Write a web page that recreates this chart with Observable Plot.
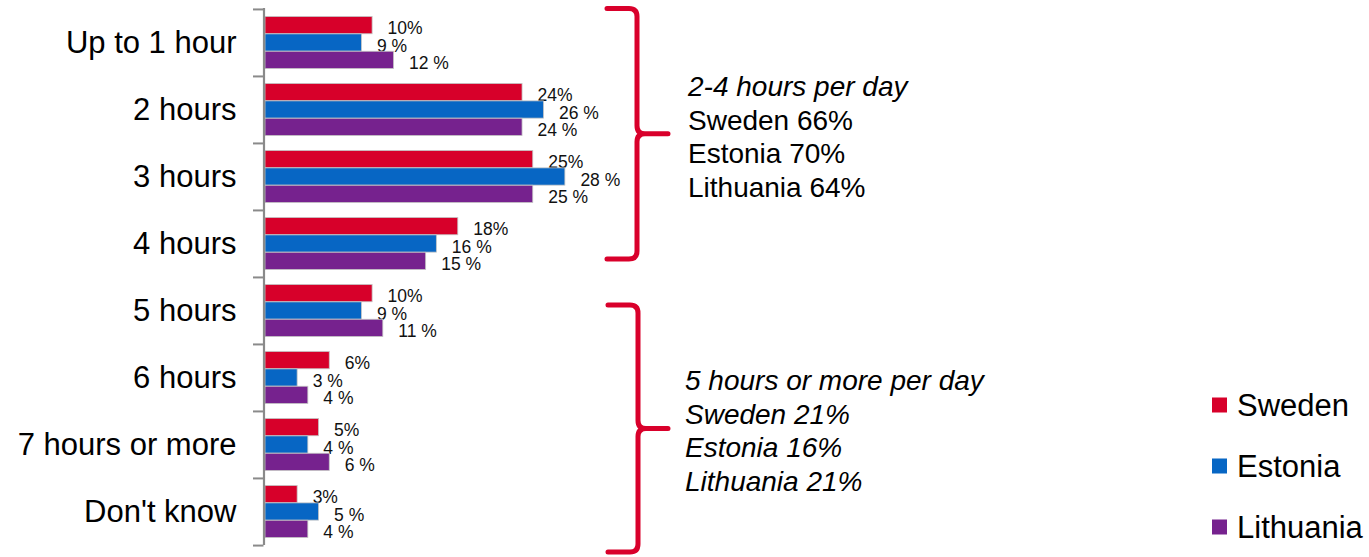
<!DOCTYPE html>
<html>
<head>
<meta charset="utf-8">
<script src="https://cdn.jsdelivr.net/npm/d3@7"></script>
<script src="https://cdn.jsdelivr.net/npm/@observablehq/plot@0.6"></script>
<style>
  html, body { margin: 0; padding: 0; background: #fff; }
  #chart { width: 1369px; height: 557px; }
</style>
</head>
<body>
<div id="chart"></div>
<script>
// ---- data ----
const categories = ["Up to 1 hour", "2 hours", "3 hours", "4 hours", "5 hours", "6 hours", "7 hours or more", "Don't know"];
const seriesNames = ["Sweden", "Estonia", "Lithuania"];
const sweden    = [10, 24, 25, 18, 10, 6, 5, 3];
const estonia   = [9, 26, 28, 16, 9, 3, 4, 5];
const lithuania = [12, 24, 25, 15, 11, 4, 6, 4];
const seriesColors = ["#d7002a", "#0766c4", "#76228e"];
const annotationTop = ["2-4 hours per day", "Sweden 66%", "Estonia 70%", "Lithuania 64%"];
const annotationBottom = ["5 hours or more per day", "Sweden 21%", "Estonia 16%", "Lithuania 21%"];

// ---- layout ----
const W = 1369, H = 557, mTop = 8, mBottom = 12, mLeft = 265;
const pxPerPct = 10.71;
const bw = (H - mTop - mBottom) / categories.length;
const pad = 7.5, slot = (bw - 2 * pad) / 3;
const font = "'Liberation Sans', Arial, Helvetica, sans-serif";
const axisGray = "#8a8a8a";

const allSeries = [sweden, estonia, lithuania];
const rows = [];
allSeries.forEach((vals, s) => vals.forEach((v, i) => rows.push({
  category: categories[i], series: seriesNames[s], si: s, value: v,
  label: s === 0 ? `${v}%` : `${v} %`
})));

const marks = [];
seriesNames.forEach((name, s) => {
  const data = rows.filter(r => r.si === s);
  marks.push(Plot.barX(data, {
    x: "value", y: "category", fill: seriesColors[s],
    stroke: "#c4c4c4", strokeWidth: 0.8,
    insetTop: pad + s * slot, insetBottom: bw - pad - (s + 1) * slot
  }));
  marks.push(Plot.text(data, {
    x: "value", y: "category", text: "label", textAnchor: "start",
    dx: 15, dy: pad + (s + 0.5) * slot - bw / 2 + 3,
    fontSize: 17.5, fill: "#111"
  }));
});
// axis line
marks.push(Plot.ruleX([0], {stroke: axisGray, strokeWidth: 2.2, dx: -1.5}));
// boundary ticks
marks.push(Plot.ruleY(categories, {y: d => d, dy: -bw / 2, x1: 0, x2: 0, insetLeft: -12, insetRight: 1.5, stroke: axisGray, strokeWidth: 2}));
marks.push(Plot.ruleY([categories[categories.length - 1]], {y: d => d, dy: bw / 2, x1: 0, x2: 0, insetLeft: -12, insetRight: 1.5, stroke: axisGray, strokeWidth: 2}));

const chart = Plot.plot({
  width: W, height: H,
  marginTop: mTop, marginBottom: mBottom, marginLeft: mLeft, marginRight: 0,
  x: {domain: [0, (W - mLeft) / pxPerPct], axis: null},
  y: {domain: categories, padding: 0, tickSize: 0, tickPadding: 29, label: null},
  style: {fontFamily: font, fontSize: "31px", color: "#000", background: "white", overflow: "visible"},
  marks
});
document.getElementById("chart").appendChild(chart);

// ---- annotations: braces, texts, legend ----
const svg = d3.select(chart);
const braceColor = "#d9002b";
function bracePath(x0, xv, xt, yt, yb) {
  const ym = (yt + yb) / 2, r = 8;
  return `M${x0},${yt} H${xv - r} Q${xv},${yt} ${xv},${yt + r} V${ym - r} Q${xv},${ym} ${xv + r},${ym} H${xt}` +
         ` M${xv + r},${ym} Q${xv},${ym} ${xv},${ym + r} V${yb - r} Q${xv},${yb} ${xv - r},${yb} H${x0}`;
}
const braces = [[607, 637, 668, 8.5, 259], [608, 638, 668, 305, 552]];
svg.append("g").selectAll("path").data(braces).join("path")
  .attr("d", d => bracePath(...d))
  .attr("fill", "none").attr("stroke", braceColor).attr("stroke-width", 5)
  .attr("stroke-linecap", "round").attr("stroke-linejoin", "round");

const gTop = svg.append("g").attr("font-family", font).attr("font-size", 28).attr("fill", "#000").attr("text-anchor", "start");
annotationTop.forEach((t, i) => {
  gTop.append("text").attr("x", 688).attr("y", 96 + i * 33.5)
    .attr("font-style", i === 0 ? "italic" : "normal").text(t);
});
const gBot = svg.append("g").attr("font-family", font).attr("font-size", 28).attr("fill", "#000").attr("font-style", "italic").attr("text-anchor", "start");
annotationBottom.forEach((t, i) => {
  gBot.append("text").attr("x", 685).attr("y", 390 + i * 33.5).text(t);
});

const gLeg = svg.append("g").attr("font-family", font).attr("font-size", 31).attr("fill", "#000").attr("text-anchor", "start");
seriesNames.forEach((name, s) => {
  const cy = 405 + s * 61;
  gLeg.append("rect").attr("x", 1212).attr("y", cy - 7.5).attr("width", 15).attr("height", 15).attr("fill", seriesColors[s]);
  gLeg.append("text").attr("x", 1237).attr("y", cy + 11).text(name);
});
</script>
</body>
</html>
